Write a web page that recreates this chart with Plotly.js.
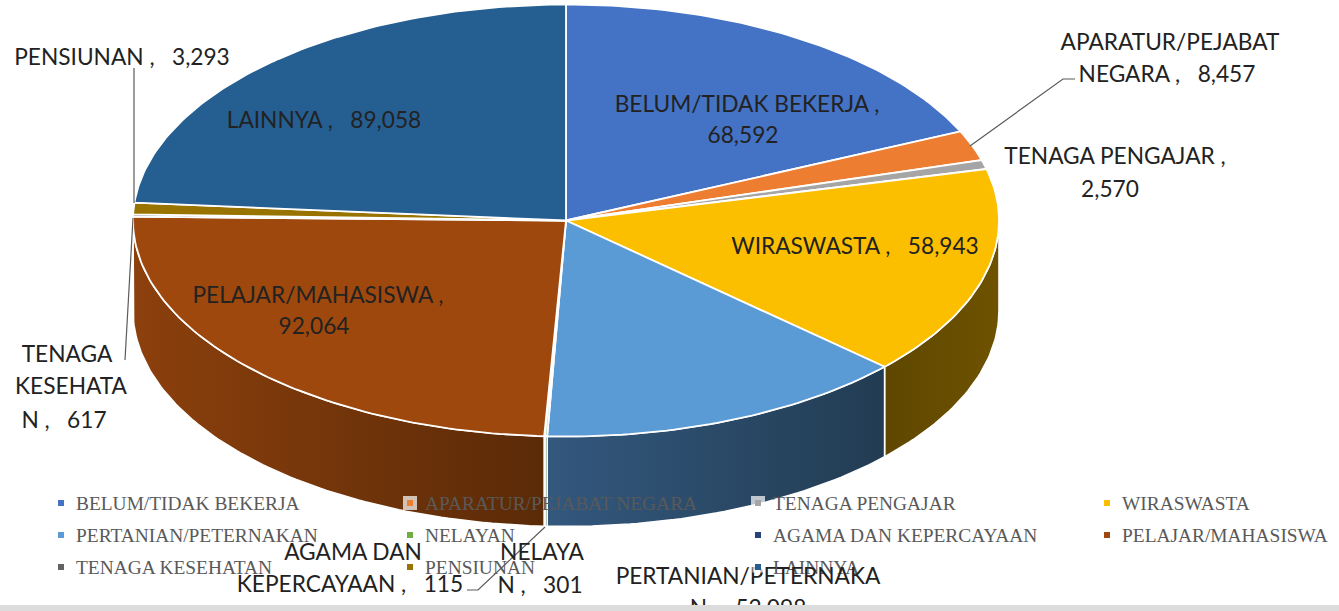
<!DOCTYPE html>
<html><head><meta charset="utf-8">
<script src="https://cdn.plot.ly/plotly-3.0.1.min.js"></script>
<style>html,body{margin:0;padding:0;background:#fff;overflow:hidden}#c{width:1339px;height:611px}</style>
</head><body><div id="c"></div>
<script>
const categories = ["BELUM/TIDAK BEKERJA","APARATUR/PEJABAT NEGARA","TENAGA PENGAJAR","WIRASWASTA","PERTANIAN/PETERNAKAN","NELAYAN","AGAMA DAN KEPERCAYAAN","PELAJAR/MAHASISWA","TENAGA KESEHATAN","PENSIUNAN","LAINNYA"];
const values = [68592,8457,2570,58943,52098,301,115,92064,617,3293,89058];
const colors = ["#4472c4","#ed7d31","#a5a5a5","#fbbf00","#5b9bd5","#70ad47","#264478","#9e480e","#636363","#997300","#255e91"];
const wallLeft = ["#333","#333","#333","#5f4700","#33587e","#3a5a20","#14243f","#8c400d","#333","#4d3a00","#133050"];
const wallRight = ["#333","#333","#333","#6e5200","#223c52","#3a5a20","#14243f","#5a2a07","#333","#4d3a00","#133050"];
const labelText = ["BELUM/TIDAK BEKERJA ,","68,592","APARATUR/PEJABAT","NEGARA ,\u00a0\u00a0\u00a08,457","TENAGA PENGAJAR ,","2,570","WIRASWASTA ,\u00a0\u00a0\u00a058,943","PERTANIAN/PETERNAKA","N ,\u00a0\u00a0\u00a052,098","NELAYA","N ,\u00a0\u00a0\u00a0301","AGAMA DAN","KEPERCAYAAN ,\u00a0\u00a0\u00a0115","PELAJAR/MAHASISWA ,","92,064","TENAGA","KESEHATA","N ,\u00a0\u00a0\u00a0617","PENSIUNAN ,\u00a0\u00a0\u00a03,293","LAINNYA ,\u00a0\u00a0\u00a089,058"];
const labelX = [747,743,1170,1167,1115,1110,855,748,748,542,540,353,350,318,314,67,71,64,122,324];
const labelY = [106,137,44,76,158,191,248,578,610,554,587,554,586,297,328,356,388,422,59,122];
const leaders = [[[970,1063,1075],[146,79,79]],[[134,134],[203,68]],[[133,125],[218,360]],[[545,478,467],[527,590,590]]];
const legendX = [61,410,758,1107], legendY = [505,537,569], legendTextOffset = 15;
const legendMarkerY = [503,535,567];

const cx = 566, cy = 220.5, rx = 433, ry = 216, depth = 90;
const total = values.reduce((a,b)=>a+b,0);
const pt = (deg,d=0)=>{const r=deg*Math.PI/180;return [cx+rx*Math.sin(r),cy-ry*Math.cos(r)+d];};
const arc = (a,b,d=0)=>{const xs=[],ys=[];const n=Math.max(2,Math.ceil(Math.abs(b-a)));for(let i=0;i<=n;i++){const p=pt(a+(b-a)*i/n,d);xs.push(p[0]);ys.push(p[1]);}return [xs,ys];};

const traces=[]; const walls=[], tops=[];
let acc=0;
values.forEach((v,i)=>{
  const a=acc/total*360; acc+=v; const b=acc/total*360;
  const w0=Math.max(a,90), w1=Math.min(b,270);
  if(w1>w0){
    const [tx,ty]=arc(w0,w1), [bx,by]=arc(w1,w0,depth);
    walls.push({type:'scatter',mode:'lines',x:[...tx,...bx,tx[0]],y:[...ty,...by,ty[0]],fill:'toself',
      fillgradient:{type:'horizontal',colorscale:[[0,wallLeft[i]],[1,wallRight[i]]]},
      line:{color:'#ffffff',width:1.6},hoverinfo:'skip',showlegend:false});
  }
  const [ax,ay]=arc(a,b);
  tops.push({type:'scatter',mode:'lines',x:[cx,...ax,cx],y:[cy,...ay,cy],fill:'toself',fillcolor:colors[i],
    line:{color:'#ffffff',width:1.8},name:categories[i],hoverinfo:'skip',showlegend:false});
});
traces.push(...walls,...tops);

const gx=[],gy=[],my=[];
categories.forEach((c,i)=>{const r=Math.floor(i/4);gx.push(legendX[i%4]);gy.push(legendY[r]);my.push(legendMarkerY[r]);});
traces.push({type:'scatter',mode:'text',x:gx.map(v=>v+legendTextOffset),y:gy,text:categories,textposition:'middle right',
  textfont:{family:'"Liberation Serif",serif',size:19.4,color:'#595959'},hoverinfo:'skip',showlegend:false,cliponaxis:false});
leaders.forEach(l=>traces.push({type:'scatter',mode:'lines',x:l[0],y:l[1],line:{color:'#5a5a5a',width:1.2},hoverinfo:'skip',showlegend:false}));
traces.push({type:'scatter',mode:'text',x:labelX,y:labelY,text:labelText,textposition:'middle center',
  textfont:{family:'Lato, "Open Sans", sans-serif',size:22.7,color:'#222222'},hoverinfo:'skip',showlegend:false,cliponaxis:false});
const handles=[1,2,10];
traces.push({type:'scatter',mode:'markers',x:handles.map(i=>gx[i]),y:handles.map(i=>my[i]),
  marker:{symbol:'square',size:[14,14,11],color:'#ffffff',line:{width:0}},hoverinfo:'skip',showlegend:false});
traces.push({type:'scatter',mode:'markers',x:gx,y:my,marker:{symbol:'square',size:6,color:colors},hoverinfo:'skip',showlegend:false});

const hidden={visible:false,showgrid:false,zeroline:false,fixedrange:true};
Plotly.newPlot('c',traces,{
  width:1339,height:611,margin:{l:0,r:0,t:0,b:0},paper_bgcolor:'#ffffff',plot_bgcolor:'#ffffff',showlegend:false,
  xaxis:{...hidden,range:[0,1339]},yaxis:{...hidden,range:[611,0]},
  shapes:[{type:'rect',layer:'above',xref:'x',yref:'y',x0:0,x1:1339,y0:605,y1:611,fillcolor:'#dcdcdc',line:{width:0}}]
},{displayModeBar:false,staticPlot:true});
</script></body></html>
